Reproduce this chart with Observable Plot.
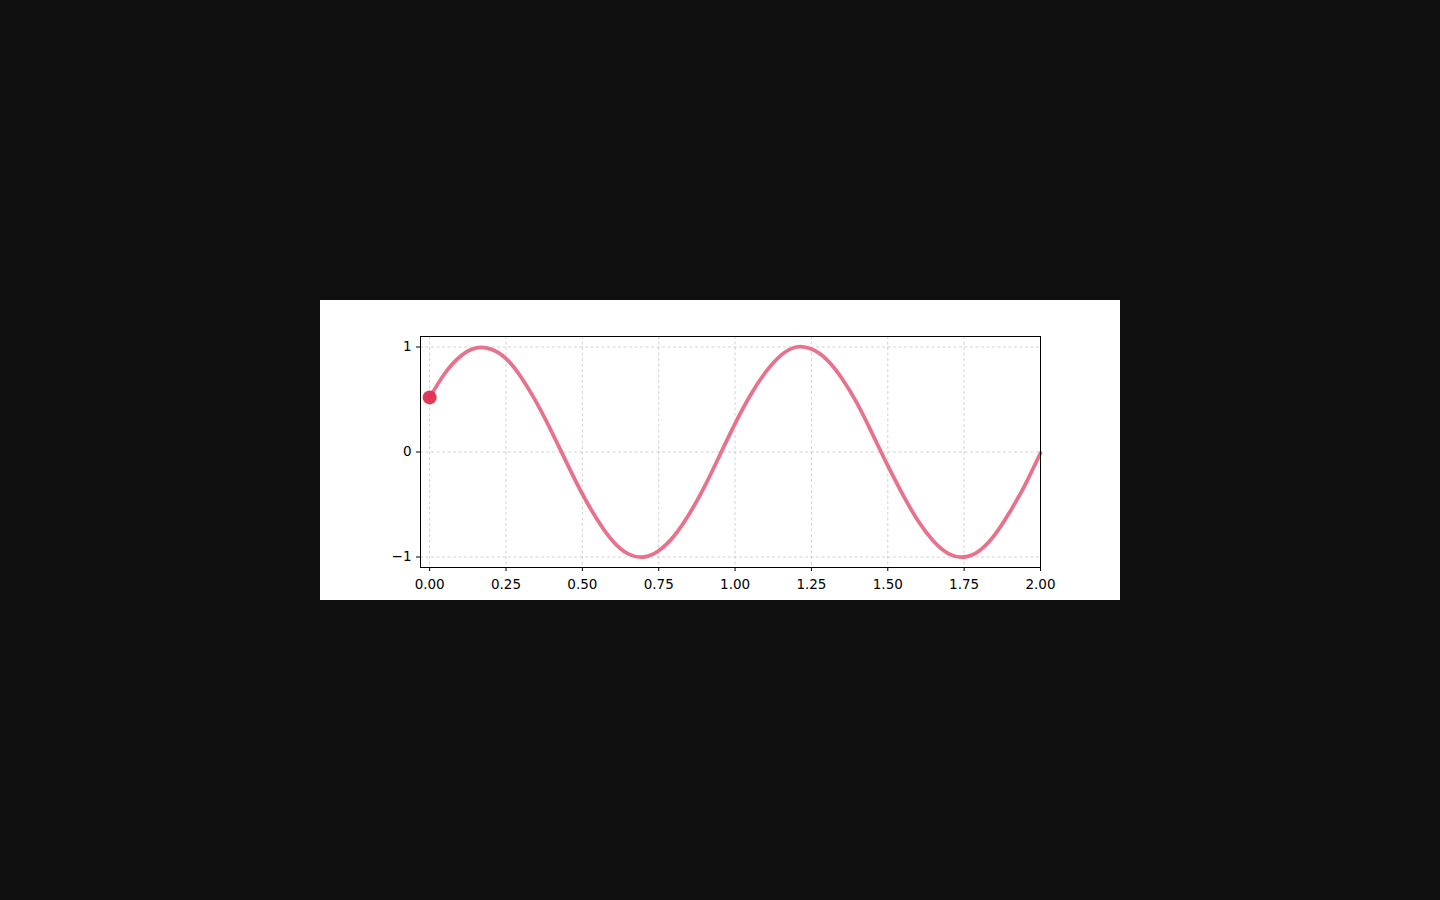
<!DOCTYPE html>
<html>
<head>
<meta charset="utf-8">
<script src="https://cdn.jsdelivr.net/npm/d3@7"></script>
<script src="https://cdn.jsdelivr.net/npm/@observablehq/plot@0.6"></script>
<style>
  html, body { margin: 0; padding: 0; background: #0f0f0f; width: 1440px; height: 900px; overflow: hidden; }
  #fig { position: absolute; left: 320px; top: 300px; width: 800px; height: 300px; background: #fff; }
  #fig svg { font-family: "DejaVu Sans", sans-serif; }
  #fig svg text { font-size: 13.5px; font-family: "DejaVu Sans", sans-serif; fill: #000; }
</style>
</head>
<body>
<div id="fig"></div>
<script>
const xs = [0.00,0.05,0.10,0.15,0.20,0.25,0.30,0.35,0.40,0.45,0.50,0.55,0.60,0.65,0.70,0.75,0.80,0.85,0.90,0.95,
            1.00,1.05,1.10,1.15,1.20,1.25,1.30,1.35,1.40,1.45,1.50,1.55,1.60,1.65,1.70,1.75,1.80,1.85,1.90,1.95,2.00];
const ys = [0.52,0.75,0.91,0.99,0.98,0.89,0.71,0.47,0.19,-0.11,-0.40,-0.65,-0.85,-0.97,-1.00,-0.94,-0.80,-0.59,-0.33,-0.03,
            0.27,0.54,0.76,0.92,1.00,0.98,0.88,0.70,0.46,0.17,-0.13,-0.41,-0.66,-0.85,-0.97,-1.00,-0.94,-0.79,-0.57,-0.31,-0.01];
const markerX = [0.00];
const markerY = [0.52];
const xTicks = [0.00,0.25,0.50,0.75,1.00,1.25,1.50,1.75,2.00];
const yTicks = [-1,0,1];

const wave = xs.map((x, i) => ({x, y: ys[i]}));
const marker = markerX.map((x, i) => ({x, y: markerY[i]}));
const fmtX = d3.format(".2f");
const fmtY = d3.format("d");

const chart = Plot.plot({
  width: 800,
  height: 300,
  marginLeft: 100,
  marginRight: 80,
  marginTop: 36,
  marginBottom: 33,
  style: {fontFamily: "DejaVu Sans, sans-serif", fontSize: "13.5px", color: "#000", background: "transparent", overflow: "visible"},
  x: {domain: [-0.03, 2.0]},
  y: {domain: [-1.1, 1.1]},
  marks: [
    Plot.gridX(xTicks, {stroke: "#b0b0b0", strokeOpacity: 0.7, strokeWidth: 0.8, strokeDasharray: "3,2.5"}),
    Plot.gridY(yTicks, {stroke: "#b0b0b0", strokeOpacity: 0.7, strokeWidth: 0.8, strokeDasharray: "3,2.5"}),
    Plot.line(wave, {x: "x", y: "y", stroke: "#e8728b", strokeWidth: 3.8, curve: "natural"}),
    Plot.dot(marker, {x: "x", y: "y", r: 7, fill: "#e0304f", fillOpacity: 0.95, stroke: "none"}),
    Plot.frame({stroke: "#000", strokeWidth: 1}),
    Plot.axisX(xTicks, {tickSize: 4, tickPadding: 8, tickFormat: fmtX, label: null, fontSize: 13.5, fill: "#000", stroke: "#000"}),
    Plot.axisY(yTicks, {tickSize: 4, tickPadding: 5, tickFormat: fmtY, label: null, fontSize: 13.5, fill: "#000", stroke: "#000"})
  ]
});
document.getElementById("fig").appendChild(chart);
</script>
</body>
</html>
